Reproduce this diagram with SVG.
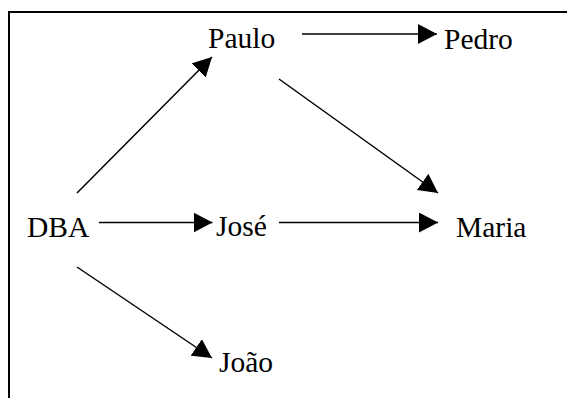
<svg xmlns="http://www.w3.org/2000/svg" width="567" height="398" viewBox="0 0 567 398">
<style>
.lbl{font-family:"Liberation Serif","Times New Roman",serif;font-size:29.5px;fill:#000}
.edge{stroke:#000;stroke-width:1.5;fill:none;marker-end:url(#ah)}
</style>
<defs>
<marker id="ah" markerUnits="userSpaceOnUse" markerWidth="20" markerHeight="20" refX="19" refY="10" orient="auto">
<path d="M0,0 L19,10 L0,20 z" fill="#000"/>
</marker>
</defs>
<rect x="0" y="0" width="567" height="398" fill="#fff"/>
<path d="M9,398 V12 H567" stroke="#000" stroke-width="2" fill="none"/>
<g id="connectors">
<line class="edge" x1="77" y1="193" x2="212" y2="57"/>
<line class="edge" x1="302" y1="34" x2="437" y2="34"/>
<line class="edge" x1="279" y1="79" x2="438" y2="193"/>
<line class="edge" x1="99" y1="222.5" x2="212.5" y2="222.5"/>
<line class="edge" x1="279" y1="222.5" x2="438" y2="222.5"/>
<line class="edge" x1="77" y1="267" x2="212" y2="358"/>
</g>
<g id="node-paulo"><text class="lbl" x="208" y="48">Paulo</text></g>
<g id="node-pedro"><text class="lbl" x="444" y="49">Pedro</text></g>
<g id="node-dba"><text class="lbl" x="27" y="237">DBA</text></g>
<g id="node-jose"><text class="lbl" x="216" y="236">José</text></g>
<g id="node-maria"><text class="lbl" x="456" y="237">Maria</text></g>
<g id="node-joao"><text class="lbl" x="219" y="372">João</text></g>
</svg>
